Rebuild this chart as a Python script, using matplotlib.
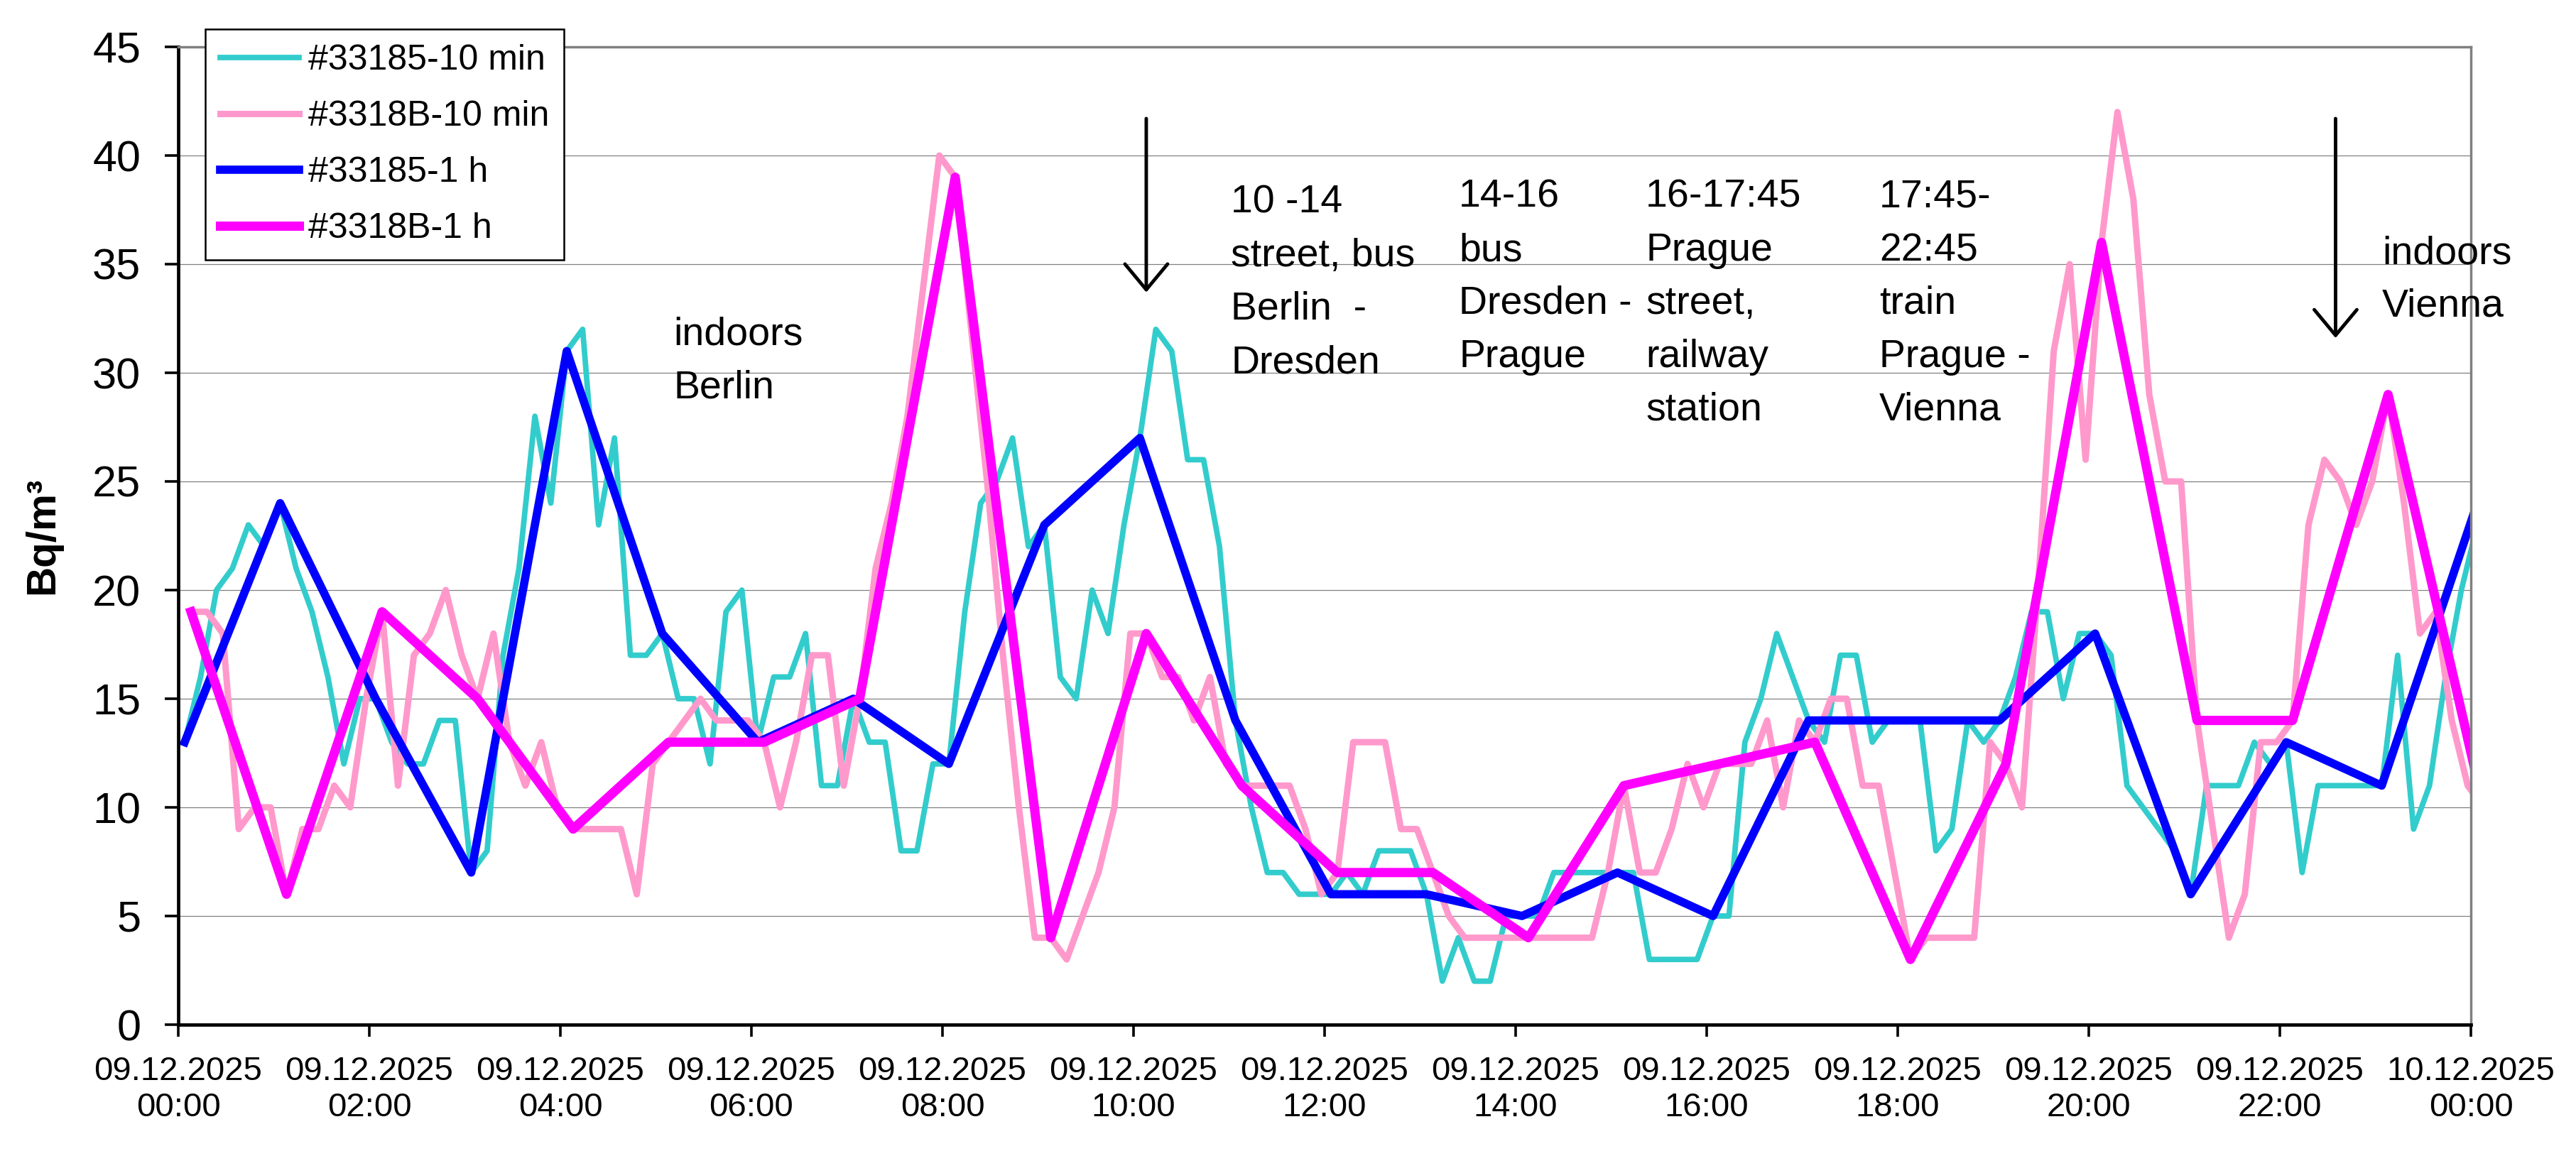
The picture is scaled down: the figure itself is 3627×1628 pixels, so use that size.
import matplotlib
matplotlib.use("Agg")
from matplotlib import pyplot as plt
import matplotlib.dates as mdates
import pandas as pd

plt.rcParams['font.family'] = ['Liberation Sans', 'DejaVu Sans']

# 10 min values, detector #33185 (first value at 00:04)
s33185_10min = [13, 16, 20, 21, 23, 22, 24, 21, 19, 16, 12, 15,
                15, 13, 12, 12, 14, 14, 7, 8, 17, 21, 28, 24,
                31, 32, 23, 27, 17, 17, 18, 15, 15, 12, 19, 20,
                13, 16, 16, 18, 11, 11, 15, 13, 13, 8, 8, 12,
                12, 19, 24, 25, 27, 22, 23, 16, 15, 20, 18, 23,
                27, 32, 31, 26, 26, 22, 14, 10, 7, 7, 6, 6,
                6, 7, 6, 8, 8, 8, 6, 2, 4, 2, 2, 5,
                5, 5, 7, 7, 7, 7, 7, 7, 3, 3, 3, 3,
                5, 5, 13, 15, 18, 16, 14, 13, 17, 17, 13, 14,
                14, 14, 8, 9, 14, 13, 14, 16, 19, 19, 15, 18,
                18, 17, 11, 10, 9, 8, 6, 11, 11, 11, 13, 12,
                13, 7, 11, 11, 11, 11, 11, 17, 9, 11, 16, 20,
                23]

# 10 min values, detector #3318B (first value at 00:08)
s3318B_10min = [19, 19, 18, 9, 10, 10, 6, 9, 9, 11, 10, 15,
                19, 11, 17, 18, 20, 17, 15, 18, 13, 11, 13, 10,
                9, 9, 9, 9, 6, 12, 13, 14, 15, 14, 14, 14,
                13, 10, 13, 17, 17, 11, 15, 21, 24, 28, 34, 40,
                39, 32, 25, 17, 10, 4, 4, 3, 5, 7, 10, 18,
                18, 16, 16, 14, 16, 12, 11, 11, 11, 11, 9, 6,
                7, 13, 13, 13, 9, 9, 7, 5, 4, 4, 4, 4,
                4, 4, 4, 4, 4, 7, 11, 7, 7, 9, 12, 10,
                12, 12, 12, 14, 10, 14, 13, 15, 15, 11, 11, 7,
                3, 4, 4, 4, 4, 13, 12, 10, 20, 31, 35, 26,
                36, 42, 38, 29, 25, 25, 14, 9, 4, 6, 13, 13,
                14, 23, 26, 25, 23, 25, 29, 24, 18, 19, 14, 11,
                10]

# hourly values
s33185_1h = [13, 24, 15, 7, 31, 18, 13, 15, 12, 23, 27, 14, 6,
             6, 5, 7, 5, 14, 14, 14, 18, 6, 13, 11, 24]
s3318B_1h = [19, 6, 19, 15, 9, 13, 13, 15, 39, 4, 18, 11, 7,
             7, 4, 11, 12, 13, 3, 12, 36, 14, 14, 29, 10]

t_33185_10 = pd.date_range('2025-12-09 00:04', periods=len(s33185_10min), freq='10min')
t_3318B_10 = pd.date_range('2025-12-09 00:08', periods=len(s3318B_10min), freq='10min')
t_33185_1h = pd.date_range('2025-12-09 00:04', periods=len(s33185_1h), freq='h')
t_3318B_1h = pd.date_range('2025-12-09 00:08', periods=len(s3318B_1h), freq='h')

# text blocks: left px, first baseline px, lines
notes = [
    (948, 486, ['indoors', 'Berlin']),
    (1733, 300, ['10 -14', 'street, bus', 'Berlin  -', 'Dresden']),
    (2054, 292, ['14-16', 'bus', 'Dresden -', 'Prague']),
    (2317, 292, ['16-17:45', 'Prague', 'street,', 'railway', 'station']),
    (2646, 292, ['17:45-', '22:45', 'train', 'Prague -', 'Vienna']),
    (3354, 371, ['indoors', 'Vienna']),
]
arrows = [('2025-12-09 10:08', 41.7, 33.7), ('2025-12-09 22:35', 41.7, 31.6)]

W, H = 3627, 1628
fig = plt.figure(figsize=(W / 100, H / 100), dpi=100)
ax = fig.add_axes([251 / W, 1 - 1443 / H, (3479 - 251) / W, (1443 - 66) / H])

ax.plot(t_33185_10, s33185_10min, color='#33CCCC', lw=5.6, label='#33185-10 min')
ax.plot(t_3318B_10, s3318B_10min, color='#FF99CC', lw=6.5, label='#3318B-10 min')
ax.plot(t_33185_1h, s33185_1h, color='#0000FF', lw=8.4, label='#33185-1 h')
ax.plot(t_3318B_1h, s3318B_1h, color='#FF00FF', lw=9.4, label='#3318B-1 h')

ax.set_ylim(0, 45)
ax.set_yticks(range(0, 46, 5))
ax.set_xlim(pd.Timestamp('2025-12-09 00:00'), pd.Timestamp('2025-12-10 00:00'))
ax.xaxis.set_major_locator(mdates.HourLocator(byhour=range(0, 24, 2)))
ax.xaxis.set_major_formatter(mdates.DateFormatter('%d.%m.%Y\n%H:%M'))

ax.grid(axis='y', color='#808080', lw=0.9)
ax.set_axisbelow(True)
for side in ['left', 'bottom']:
    ax.spines[side].set_linewidth(3.4)
    ax.spines[side].set_color('black')
for side in ['top', 'right']:
    ax.spines[side].set_linewidth(2.5)
    ax.spines[side].set_color('#808080')

ax.tick_params(axis='y', labelsize=44, length=14, width=2.6, pad=24)
ax.tick_params(axis='x', labelsize=34, length=12, width=2.6, pad=20)

ax.set_ylabel('Bq/m³', fontsize=42, fontweight='bold')
ax.yaxis.set_label_coords(-0.0545, 0.5)
ax.yaxis.label.set_va('baseline')

leg = ax.legend(loc='upper left', bbox_to_anchor=(289 / W, 1 - 41 / H),
                bbox_transform=fig.transFigure, fontsize=36, frameon=True,
                fancybox=False, framealpha=1, edgecolor='black', borderaxespad=0,
                handlelength=2.22, handletextpad=0.26, labelspacing=0.66,
                borderpad=0.42)
leg.get_frame().set_linewidth(1.8)

for x, y0, lines in notes:
    for i, line in enumerate(lines):
        fig.text(x / W, 1 - (y0 + i * 75) / H, line, fontsize=40, va='baseline', ha='left')

for when, top, tip in arrows:
    ax.annotate('', xy=(pd.Timestamp(when), tip), xytext=(pd.Timestamp(when), top),
                annotation_clip=False,
                arrowprops=dict(arrowstyle='->,head_length=1.3,head_width=1.08',
                                mutation_scale=20, lw=3.5, color='black',
                                shrinkA=0, shrinkB=0))

fig.savefig('out.png', dpi=100)
